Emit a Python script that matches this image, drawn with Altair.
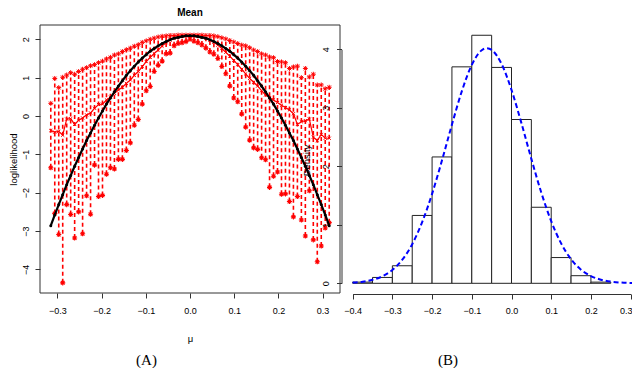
import altair as alt
import numpy as np
import pandas as pd

# ---------------- Panel A data (log-likelihood vs mu) ----------------
mu = np.round(np.linspace(-0.315, 0.315, 71), 3).tolist()

upper = [0.33, 0.98, 0.74, 1.01, 1.07, 1.13, 1.09, 1.16, 1.22, 1.26,
         1.31, 1.34, 1.39, 1.43, 1.49, 1.53, 1.59, 1.62, 1.68, 1.73,
         1.77, 1.82, 1.86, 1.92, 1.96, 2.00, 2.03, 2.06, 2.08, 2.09,
         2.10, 2.10, 2.11, 2.11, 2.11, 2.11, 2.11, 2.11, 2.11, 2.10,
         2.10, 2.09, 2.07, 2.04, 2.01, 1.97, 1.93, 1.89, 1.85, 1.83,
         1.78, 1.72, 1.68, 1.62, 1.59, 1.54, 1.52, 1.42, 1.41, 1.39,
         1.24, 1.28, 1.30, 1.00, 1.24, 1.02, 1.09, 0.81, 0.81, 0.71,
         0.75]

lower = [-1.35, -2.54, -3.09, -4.35, -2.31, -2.57, -3.18, -2.50, -3.07, -2.08,
         -2.56, -1.28, -2.10, -2.07, -1.52, -1.35, -1.38, -1.13, -1.13, -0.90,
         -0.70, -0.24, -0.09, 0.31, 0.66, 0.77, 1.16, 1.32, 1.43, 1.62,
         1.64, 1.83, 1.89, 1.91, 1.94, 2.00, 1.95, 1.91, 1.85, 1.77,
         1.67, 1.61, 1.50, 1.29, 1.10, 0.78, 0.47, 0.37, 0.05, -0.29,
         -0.63, -0.83, -0.87, -1.09, -1.14, -1.86, -1.57, -1.46, -2.04, -2.03,
         -2.23, -2.63, -2.10, -2.71, -3.13, -1.95, -3.23, -3.80, -3.39, -2.92,
         -2.78]

middle = [-0.38, -0.42, -0.40, -0.50, -0.08, -0.07, -0.22, -0.11, -0.05, 0.03,
          0.08, 0.20, 0.30, 0.31, 0.42, 0.49, 0.59, 0.68, 0.75, 0.85,
          0.94, 1.06, 1.16, 1.29, 1.42, 1.53, 1.63, 1.72, 1.83, 1.91,
          1.98, 2.03, 2.06, 2.08, 2.09, 2.09, 2.09, 2.08, 2.06, 2.03,
          1.98, 1.92, 1.85, 1.76, 1.66, 1.56, 1.45, 1.34, 1.22, 1.10,
          0.98, 0.88, 0.78, 0.66, 0.55, 0.48, 0.42, 0.35, 0.28, 0.22,
          0.16, 0.06, -0.22, -0.15, -0.12, -0.08, -0.55, -0.64, -0.48, -0.58,
          -0.58]

loglik = [-2.86, -2.58, -2.31, -2.05, -1.79, -1.55, -1.31, -1.08, -0.86, -0.64,
          -0.44, -0.24, -0.05, 0.13, 0.31, 0.47, 0.63, 0.78, 0.92, 1.06,
          1.18, 1.30, 1.41, 1.51, 1.60, 1.69, 1.76, 1.83, 1.89, 1.94,
          1.99, 2.03, 2.05, 2.07, 2.09, 2.09, 2.09, 2.07, 2.05, 2.03,
          1.99, 1.94, 1.89, 1.83, 1.76, 1.69, 1.60, 1.51, 1.41, 1.30,
          1.18, 1.06, 0.92, 0.78, 0.63, 0.47, 0.31, 0.13, -0.05, -0.24,
          -0.44, -0.64, -0.86, -1.08, -1.31, -1.55, -1.79, -2.05, -2.31, -2.58,
          -2.86]

A_x_ticks = [-0.3, -0.2, -0.1, 0.0, 0.1, 0.2, 0.3]
A_y_ticks = [-4, -3, -2, -1, 0, 1, 2]
A_x_domain = [-0.3394, 0.3394]
A_y_domain = [-4.615, 2.373]

# ---------------- Panel B data (histogram + normal curve) ----------------
bin_left = [-0.40, -0.35, -0.30, -0.25, -0.20, -0.15, -0.10, -0.05, 0.00, 0.05, 0.10, 0.15, 0.20]
bin_right = [-0.35, -0.30, -0.25, -0.20, -0.15, -0.10, -0.05, 0.00, 0.05, 0.10, 0.15, 0.20, 0.25]
bin_density = [0.02, 0.10, 0.30, 1.16, 2.16, 3.70, 4.24, 3.69, 2.80, 1.30, 0.44, 0.13, 0.02]

curve_x = [-0.400, -0.375, -0.350, -0.325, -0.300, -0.275, -0.250, -0.225, -0.200, -0.175,
           -0.150, -0.125, -0.100, -0.075, -0.0625, -0.050, -0.025, 0.000, 0.025, 0.050,
           0.075, 0.100, 0.125, 0.150, 0.175, 0.200, 0.225, 0.250, 0.275, 0.300, 0.325]
curve_y = [0.012, 0.028, 0.060, 0.120, 0.227, 0.403, 0.669, 1.045, 1.529, 2.103,
           2.713, 3.286, 3.734, 3.984, 4.018, 3.989, 3.749, 3.306, 2.738, 2.127,
           1.551, 1.062, 0.682, 0.411, 0.233, 0.124, 0.062, 0.029, 0.013, 0.005, 0.002]

B_x_ticks = [-0.4, -0.3, -0.2, -0.1, 0.0, 0.1, 0.2, 0.3]
B_y_ticks = [0, 1, 2, 3, 4]

# ---------------- layout ----------------
W, H = 624, 360
SANS = "Liberation Sans"
SERIF = "Liberation Serif"
RED = "#FF0000"

dfA = pd.DataFrame({"mu": mu, "upper": upper, "lower": lower,
                    "middle": middle, "loglik": loglik})
frame = pd.DataFrame({"x1": [A_x_domain[0]], "x2": [A_x_domain[1]],
                      "y1": [A_y_domain[0]], "y2": [A_y_domain[1]]})
dfHist = pd.DataFrame({"left": bin_left, "right": bin_right,
                       "density": bin_density, "base": [0.0] * len(bin_left)})
dfCurve = pd.DataFrame({"x": curve_x, "y": curve_y})
one = pd.DataFrame({"a": [0]})

xA = alt.Scale(domain=A_x_domain, range=[32, 332], nice=False, zero=False)
yA = alt.Scale(domain=A_y_domain, range=[285, 17], nice=False, zero=False)
xB = alt.Scale(domain=[-0.4, 0.3], range=[344.66, 622.63], nice=False, zero=False)
yB = alt.Scale(domain=[0, 4], range=[275.3, 41.3], nice=False, zero=False)

common_axis = dict(grid=False, domain=False, tickSize=5, tickColor="#333",
                   labelFont=SANS, labelFontSize=9, labelColor="#000",
                   titleFont=SANS, titleFontSize=9.5, titleColor="#000",
                   titleFontWeight="normal", labelOverlap=False)

axA_x = alt.Axis(values=A_x_ticks, format=".1f", orient="bottom", offset=-75,
                 labelPadding=8, labelFlush=False, title="μ",
                 titleX=182, titleY=45, titleAlign="center", titleBaseline="middle",
                 **common_axis)
axA_y = alt.Axis(values=A_y_ticks, format="d", orient="left", offset=-32,
                 labelAngle=270, labelAlign="center", labelBaseline="bottom",
                 labelPadding=5, title="loglikelihood", titleAngle=270,
                 titleX=-27, titleY=151, titleAlign="center", titleBaseline="middle",
                 **common_axis)

common_axis_B = dict(common_axis)
common_axis_B["domain"] = True
axB_x = alt.Axis(values=B_x_ticks, format=".1f", orient="bottom", offset=-74,
                 labelPadding=7, labelFlush=False, title=None,
                 labelAlign=alt.condition("datum.value >= 0.29",
                                          alt.value("right"), alt.value("center")),
                 labelOffset=alt.condition("datum.value >= 0.29",
                                           alt.value(1.3), alt.value(0)),
                 domainColor="#333", zindex=1, **common_axis_B)
axB_y = alt.Axis(values=B_y_ticks, format="d", orient="left", offset=-333.5,
                 labelAngle=270, labelAlign="center", labelBaseline="bottom",
                 labelPadding=6, title="Density", titleAngle=270,
                 titleX=-35.5, titleY=152, titleAlign="center", titleBaseline="middle",
                 domainColor="#333", zindex=1, **common_axis_B)

asterisk = "M-1,0H1M0,-1V1M-0.72,-0.72L0.72,0.72M-0.72,0.72L0.72,-0.72"
xmark = "M-1,-1L1,1M-1,1L1,-1"

baseA = alt.Chart(dfA)

box = alt.Chart(frame).mark_rect(fillOpacity=0, stroke="#333", strokeWidth=1).encode(
    x=alt.X("x1:Q", scale=xA, axis=axA_x), x2="x2:Q",
    y=alt.Y("y1:Q", scale=yA, axis=axA_y), y2="y2:Q")

segs = baseA.mark_rule(color=RED, strokeDash=[4, 3], strokeWidth=1.6).encode(
    x=alt.X("mu:Q"), y=alt.Y("lower:Q"), y2="upper:Q")

top_pts = baseA.mark_point(shape=asterisk, filled=False, color=RED, size=24,
                           strokeWidth=1.0, opacity=1).encode(
    x="mu:Q", y="upper:Q")
bot_pts = baseA.mark_point(shape=asterisk, filled=False, color=RED, size=26,
                           strokeWidth=1.1, opacity=1).encode(
    x="mu:Q", y="lower:Q")

mid_line = baseA.mark_line(color=RED, strokeWidth=1.2).encode(x="mu:Q", y="middle:Q")
mid_pts = baseA.mark_point(shape=xmark, filled=False, color=RED, size=10,
                           strokeWidth=1, opacity=1).encode(x="mu:Q", y="middle:Q")

black_line = baseA.mark_line(color="#000", strokeWidth=2.2).encode(x="mu:Q", y="loglik:Q")
black_pts = baseA.mark_circle(color="#000", size=9, opacity=1).encode(x="mu:Q", y="loglik:Q")

title_A = alt.Chart(one).mark_text(text="Mean", font=SANS, fontSize=10,
                                   fontWeight="bold", baseline="top", align="center",
                                   color="#000").encode(
    x=alt.X(datum=0.0), y=alt.value(0))
cap_A = alt.Chart(one).mark_text(text="(A)", font=SERIF, fontSize=15, baseline="alphabetic",
                                 align="center", color="#000").encode(
    x=alt.value(138.5), y=alt.value(357))
cap_B = alt.Chart(one).mark_text(text="(B)", font=SERIF, fontSize=15, baseline="alphabetic",
                                 align="center", color="#000").encode(
    x=alt.value(440), y=alt.value(357))

layerA = alt.layer(box, segs, top_pts, bot_pts, mid_line, mid_pts,
                   black_line, black_pts, title_A, cap_A, cap_B)

bars = alt.Chart(dfHist).mark_rect(fill="#FFFFFF", stroke="#222", strokeWidth=1).encode(
    x=alt.X("left:Q", scale=xB, axis=axB_x), x2="right:Q",
    y=alt.Y("density:Q", scale=yB, axis=axB_y), y2="base:Q")
curve = alt.Chart(dfCurve).mark_line(color="#0000FF", strokeDash=[5, 3], strokeWidth=2,
                                     interpolate="monotone").encode(
    x="x:Q", y="y:Q")

layerB = alt.layer(bars, curve)

chart = alt.layer(layerA, layerB).resolve_scale(
    x="independent", y="independent"
).properties(
    width=W, height=H, padding=0,
    autosize=alt.AutoSizeParams(type="none"),
).configure_view(strokeWidth=0)

chart.save("out.html", embed_options={"renderer": "svg", "actions": False})
